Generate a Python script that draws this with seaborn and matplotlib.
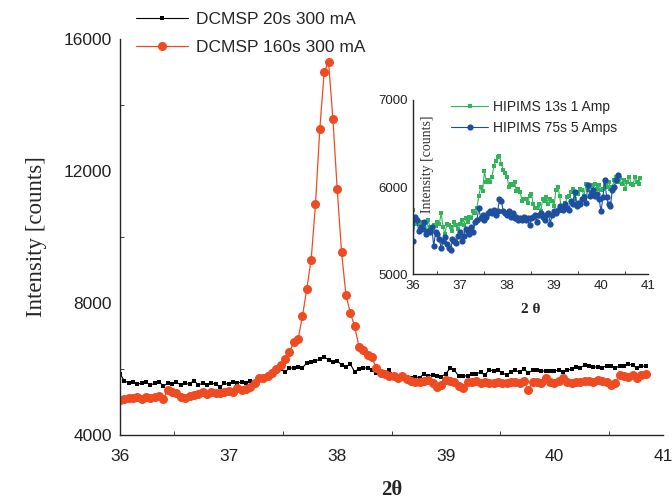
import numpy as np
import matplotlib.pyplot as plt
import seaborn as sns

# scan grid (2 theta, step 0.04)
two_theta = np.round(np.arange(36.0, 40.85, 0.04), 2)

# DCMSP 20s 300 mA
dcmsp_20s = [5850, 5640, 5580, 5600, 5540, 5570, 5600, 5520, 5560, 5610,
             5480, 5570, 5540, 5600, 5510, 5560, 5540, 5650, 5520, 5560,
             5500, 5580, 5530, 5460, 5560, 5540, 5600, 5560, 5620, 5580,
             5640, 5600, 5680, 5720, 5760, 5820, 5900, 6000, 5900, 6040,
             6020, 6060, 6040, 6180, 6200, 6240, 6300, 6360, 6280, 6220,
             6240, 6130, 6060, 6150, 5920, 6000, 6020, 6040, 5960, 5870,
             5880, 5880, 5960, 5800, 5800, 5760, 5760, 5720, 5760, 5740,
             5860, 5800, 5820, 5800, 5770, 5860, 6020, 5960, 5780, 5800,
             5780, 5840, 5860, 5900, 5820, 5980, 5940, 5980, 5880, 5820,
             5900, 5960, 5900, 6000, 5880, 5960, 5960, 5940, 5940, 5930,
             5940, 5960, 5900, 5960, 6000, 6060, 6040, 6120, 6080, 6060,
             6060, 6040, 6100, 6080, 6020, 6100, 6080, 6140, 6120, 6020,
             6080, 6090]

# DCMSP 160s 300 mA
dcmsp_160s = [5060, 5080, 5120, 5110, 5140, 5100, 5160, 5120, 5150, 5180,
              5100, 5360, 5300, 5260, 5160, 5120, 5180, 5200, 5240, 5300,
              5250, 5300, 5280, 5260, 5300, 5340, 5300, 5420, 5360, 5380,
              5460, 5580, 5720, 5740, 5780, 5870, 6000, 6120, 6300, 6500,
              6810, 6910, 7600, 8430, 9310, 10990, 13280, 15000, 15312, 13590,
              11450, 9550, 8250, 7710, 7300, 6680, 6580, 6420, 6350, 6020,
              5880, 5860, 5780, 5800, 5720, 5780, 5700, 5640, 5620, 5600,
              5640, 5680, 5560, 5460, 5500, 5680, 5640, 5600, 5480, 5420,
              5620, 5600, 5640, 5580, 5620, 5560, 5580, 5600, 5570, 5580,
              5600, 5620, 5580, 5640, 5360, 5620, 5600, 5580, 5720, 5600,
              5560, 5640, 5720, 5600, 5580, 5600, 5620, 5640, 5640, 5620,
              5660, 5640, 5600, 5520, 5580, 5820, 5800, 5760, 5820, 5720,
              5820, 5850]

# HIPIMS 13s 1 Amp (inset)
hipims_13s = [5740, 5580, 5620, 5580, 5600, 5520, 5560, 5480, 5620, 5540,
              5500, 5560, 5550, 5600, 5580, 5700, 5540, 5460, 5580, 5560,
              5540, 5500, 5600, 5560, 5520, 5580, 5620, 5560, 5640, 5600,
              5660, 5640, 5720, 5700, 5760, 5900, 6000, 5950, 6180, 6060,
              6080, 6060, 6120, 6240, 6300, 6340, 6360, 6260, 6200, 6160,
              6120, 6000, 6040, 6020, 6060, 5950, 5980, 5940, 5840, 5860,
              5860, 5820, 5900, 5920, 5800, 5760, 5760, 5800, 5720, 5860,
              5840, 5880, 5800, 5860, 5840, 5780, 5960, 6000, 5900, 5720,
              5760, 5820, 5880, 5900, 5940, 5980, 5860, 5940, 5920, 5980,
              5960, 5900, 6040, 5960, 6020, 6000, 6020, 6040, 5980, 6020,
              5960, 5980, 6040, 6000, 6060, 5980, 6000, 6080, 6120, 6060,
              6100, 6040, 6080, 5980, 6060, 6120, 6040, 6020, 6120, 6060,
              6040, 6100]

# HIPIMS 75s 5 Amps (inset, shorter scan)
hipims_75s = [5380, 5650, 5620, 5500, 5540, 5520, 5600, 5460, 5500, 5480,
              5540, 5320, 5480, 5460, 5400, 5300, 5380, 5420, 5340, 5300,
              5280, 5400, 5380, 5360, 5440, 5480, 5380, 5440, 5520, 5500,
              5460, 5540, 5480, 5600, 5620, 5760, 5640, 5680, 5620, 5660,
              5700, 5720, 5700, 5740, 5680, 5720, 5860, 5840, 5720, 5700,
              5680, 5720, 5660, 5700, 5640, 5660, 5620, 5640, 5620, 5660,
              5620, 5640, 5560, 5640, 5660, 5680, 5600, 5680, 5700, 5660,
              5620, 5680, 5700, 5580, 5680, 5720, 5700, 5740, 5780, 5760,
              5740, 5800, 5760, 5740, 5840, 5800, 5940, 5780, 5820, 5800,
              5860, 5880, 5820, 6020, 5900, 5940, 5960, 5900, 5920, 5860,
              5720, 5880, 6080, 5880, 5800, 5780, 5960, 6000, 6080, 6140]

sns.set_style('ticks')
plt.rcParams['font.family'] = ['Liberation Sans', 'DejaVu Sans']
plt.rcParams['axes.linewidth'] = 1.0

fig = plt.figure(figsize=(6.72, 4.99), dpi=100)
ax = fig.add_axes([0.1786, 0.1283, 0.808, 0.7936])

sns.lineplot(x=two_theta, y=dcmsp_20s, ax=ax, color='black', linewidth=0.8,
             marker='s', markersize=3.2, markeredgewidth=0, label='DCMSP 20s 300 mA')
sns.lineplot(x=two_theta, y=dcmsp_160s, ax=ax, color='#ef4b23', linewidth=0.9,
             marker='o', markersize=6.5, markeredgewidth=0, label='DCMSP 160s 300 mA')

ax.set_xlim(36, 41)
ax.set_ylim(4000, 16000)
ax.set_xticks([36, 37, 38, 39, 40, 41])
ax.set_xticks(np.arange(36.5, 41, 1), minor=True)
ax.set_yticks([4000, 8000, 12000, 16000])
ax.set_yticks([6000, 10000, 14000], minor=True)
ax.tick_params(which='both', direction='in', labelsize=12.5, colors='#222222')
ax.tick_params(axis='x', which='major', length=0, pad=10)
ax.tick_params(axis='y', which='major', length=0, pad=6)
ax.tick_params(which='minor', length=3)
sns.despine(ax=ax)
ax.set_ylabel('Intensity [counts]', family='Liberation Serif', fontsize=16.5, labelpad=12)
ax.set_xlabel('2θ', family='Liberation Serif', fontsize=15, fontweight='bold', labelpad=11.5)

ax.legend(loc='upper left', bbox_to_anchor=(0.016, 1.085), frameon=False, fontsize=12.5,
          handlelength=3.0, handletextpad=0.5, labelspacing=0.72, borderaxespad=0)

# inset
ins = fig.add_axes([0.6146, 0.4509, 0.3497, 0.3487])
sns.lineplot(x=two_theta, y=hipims_13s, ax=ins, color='#2fb45a', linewidth=0.8,
             marker='s', markersize=2.8, markeredgewidth=0, label='HIPIMS 13s 1 Amp')
sns.lineplot(x=two_theta[:len(hipims_75s)], y=hipims_75s, ax=ins, color='#1d4ea0',
             linewidth=0.8, marker='o', markersize=4.5, markeredgewidth=0,
             label='HIPIMS 75s 5 Amps')
ins.set_xlim(36, 41)
ins.set_ylim(5000, 7000)
ins.set_xticks([36, 37, 38, 39, 40, 41])
ins.set_xticks(np.arange(36.5, 41, 1), minor=True)
ins.set_yticks([5000, 6000, 7000])
ins.tick_params(which='both', direction='in', labelsize=9.5, colors='#222222')
ins.tick_params(which='major', length=0, pad=4)
ins.tick_params(which='minor', length=2)
sns.despine(ax=ins)
ins.patch.set_alpha(0)
ins.set_xlabel('2 θ', family='Liberation Serif', fontsize=11, fontweight='bold', labelpad=8)
ins.set_ylabel('')
ins.text(0.06, 0.63, 'Intensity [counts]', transform=ins.transAxes, rotation=90,
         ha='center', va='center', family='Liberation Serif', fontsize=10, color='#333333')
ins.legend(loc='upper left', bbox_to_anchor=(0.14, 1.03), frameon=False, fontsize=10,
           handlelength=2.6, handletextpad=0.4, labelspacing=0.45, borderaxespad=0)

fig.savefig('out.png', dpi=100)
